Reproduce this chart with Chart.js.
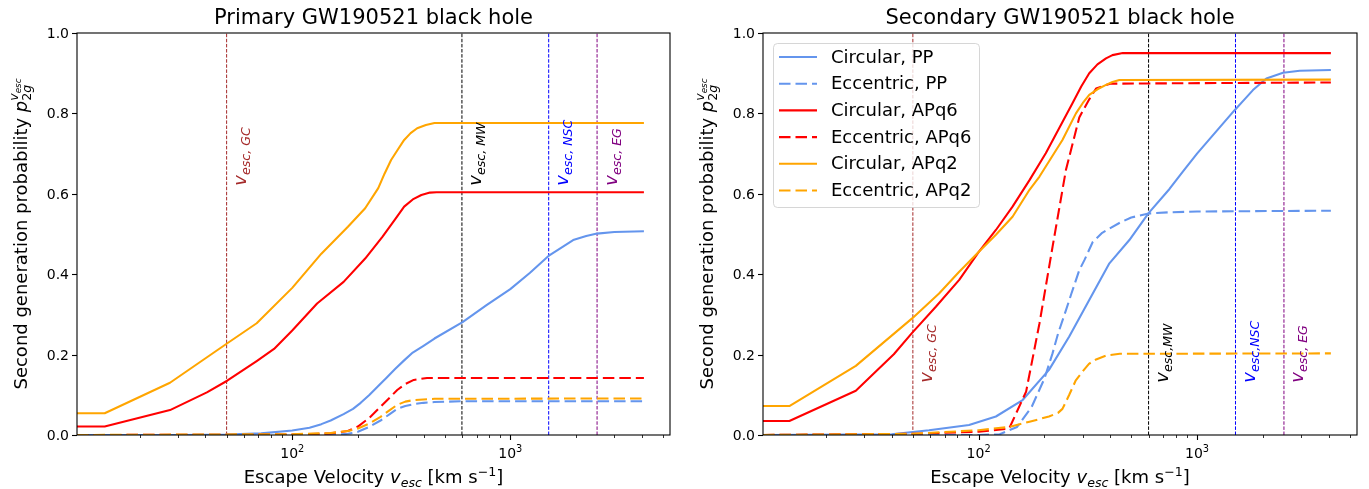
<!DOCTYPE html>
<html><head><meta charset="utf-8">
<script src="https://cdn.jsdelivr.net/npm/chart.js@4.4.1/dist/chart.umd.min.js"></script>
<style>
html,body{margin:0;padding:0;background:#fff;}
#wrap{position:relative;width:1369px;height:489px;overflow:hidden;background:#fff;}
canvas{position:absolute;top:0;}
</style></head><body>
<div id="wrap">
<canvas id="c1" width="685" height="489" style="left:0px;width:685px;height:489px"></canvas>
<canvas id="c2" width="684" height="489" style="left:685px;width:684px;height:489px"></canvas>
</div>
<script>
// ---------------- DATA ----------------
const seriesLabels = ['Circular, PP','Eccentric, PP','Circular, APq6','Eccentric, APq6','Circular, APq2','Eccentric, APq2'];
const yTickValues = [0, 0.2, 0.4, 0.6, 0.8, 1.0];
const xMajorTickValues = [100, 1000];
const xMajorTickExponents = ['2', '3'];
const escMarkVelocities = [50, 600, 1500, 2500];
const escMarkNames = ['GC', 'MW', 'NSC', 'EG'];

// Primary GW190521 black hole
const priCircPP_v = [10.3, 30, 50, 72, 100, 120, 136, 150, 172, 190, 206, 225, 248, 270, 297, 325, 357, 400, 449, 604, 778, 1000, 1228, 1510, 1942, 2229, 2500, 3000, 4100];
const priCircPP_p = [0, 0, 0.001, 0.004, 0.011, 0.018, 0.027, 0.036, 0.052, 0.065, 0.080, 0.099, 0.122, 0.142, 0.165, 0.185, 0.205, 0.222, 0.240, 0.281, 0.323, 0.363, 0.403, 0.447, 0.485, 0.495, 0.501, 0.505, 0.507];
const priEccPP_v = [10.3, 150, 180, 200, 225, 254, 280, 303, 330, 361, 400, 449, 600, 4100];
const priEccPP_p = [0, 0, 0.003, 0.008, 0.020, 0.036, 0.052, 0.065, 0.072, 0.077, 0.080, 0.082, 0.084, 0.084];
const priCircQ6_v = [10.3, 13.8, 27.5, 40.6, 50.3, 68.7, 82.5, 100, 130, 172, 216, 259, 295, 326, 357, 391, 428, 459, 4100];
const priCircQ6_p = [0.021, 0.021, 0.062, 0.106, 0.135, 0.184, 0.214, 0.260, 0.327, 0.381, 0.439, 0.493, 0.535, 0.568, 0.586, 0.597, 0.603, 0.604, 0.604];
const priEccQ6_v = [10.3, 100, 150, 180, 200, 225, 254, 280, 303, 330, 361, 415, 4100];
const priEccQ6_p = [0, 0.001, 0.004, 0.010, 0.021, 0.042, 0.070, 0.093, 0.112, 0.127, 0.137, 0.142, 0.142];
const priCircQ2_v = [10.3, 13.8, 27.5, 50, 68.7, 100, 136, 180, 216, 248, 265, 284, 304, 326, 349, 374, 410, 449, 4100];
const priCircQ2_p = [0.054, 0.054, 0.130, 0.227, 0.278, 0.366, 0.451, 0.518, 0.564, 0.614, 0.650, 0.684, 0.709, 0.734, 0.751, 0.763, 0.771, 0.776, 0.776];
const priEccQ2_v = [10.3, 100, 150, 180, 200, 225, 254, 280, 303, 330, 361, 449, 4100];
const priEccQ2_p = [0, 0.002, 0.005, 0.010, 0.016, 0.028, 0.045, 0.062, 0.075, 0.083, 0.087, 0.090, 0.091];

// Secondary GW190521 black hole
const secCircPP_v = [10.3, 40, 59.3, 90.4, 120, 159, 210, 260, 321, 397, 490, 600, 748, 861, 1000, 1141, 1486, 1650, 1803, 2077, 2476, 2953, 4100];
const secCircPP_p = [0, 0.002, 0.012, 0.025, 0.046, 0.087, 0.162, 0.245, 0.336, 0.427, 0.485, 0.552, 0.612, 0.655, 0.700, 0.736, 0.808, 0.835, 0.858, 0.887, 0.901, 0.906, 0.908];
const secEccPP_v = [10.3, 100, 125, 150, 175, 200, 218, 231, 251, 266, 289, 305, 333, 368, 443, 500, 600, 750, 1000, 4100];
const secEccPP_p = [0, 0, 0.002, 0.02, 0.07, 0.14, 0.203, 0.252, 0.31, 0.352, 0.41, 0.435, 0.48, 0.503, 0.528, 0.541, 0.551, 0.554, 0.556, 0.558];
const secCircQ6_v = [10.3, 13.6, 27.4, 40.9, 49.6, 63.7, 81.5, 100, 120, 143, 171, 203, 269, 295, 321, 350, 383, 410, 457, 4100];
const secCircQ6_p = [0.035, 0.035, 0.110, 0.201, 0.254, 0.319, 0.386, 0.455, 0.510, 0.568, 0.634, 0.701, 0.825, 0.867, 0.900, 0.922, 0.937, 0.945, 0.950, 0.950];
const secEccQ6_v = [10.3, 50, 100, 138, 165, 190, 218, 251, 289, 321, 345, 400, 4100];
const secEccQ6_p = [0, 0.003, 0.008, 0.016, 0.108, 0.278, 0.468, 0.659, 0.790, 0.835, 0.862, 0.874, 0.877];
const secCircQ2_v = [10.3, 13.6, 27.4, 49.6, 65.9, 81.5, 100, 120, 143, 171, 190, 242, 279, 300, 321, 350, 383, 410, 441, 4100];
const secCircQ2_p = [0.072, 0.072, 0.172, 0.290, 0.352, 0.406, 0.455, 0.498, 0.543, 0.610, 0.643, 0.734, 0.800, 0.826, 0.846, 0.860, 0.871, 0.878, 0.883, 0.884];
const secEccQ2_v = [10.3, 50, 100, 138, 171, 210, 231, 242, 260, 278, 299, 320, 345, 385, 443, 4100];
const secEccQ2_p = [0, 0.003, 0.012, 0.020, 0.033, 0.046, 0.055, 0.065, 0.100, 0.135, 0.158, 0.177, 0.188, 0.198, 0.202, 0.203];

// ---------------- STYLE ----------------
const FONT = '"DejaVu Sans", "Liberation Sans", sans-serif';
const seriesColors = ['#6495ED', '#6495ED', '#FF0000', '#FF0000', '#FFA500', '#FFA500'];
const seriesDashed = [false, true, false, true, false, true];
const markColors = ['#A52A2A', '#000000', '#0000FF', '#800080'];
const LW = 2.08;
const DASH = [11.5, 5];

function pairs(vs, ps) { return vs.map((v, i) => ({ x: v, y: ps[i] })); }

function drawRuns(ctx, runs, x0, y0, draw) {
  let x = x0, maxX = x0; const marks = {};
  for (const r of runs) {
    if (r.mark) marks[r.mark] = x;
    if (r.from) x = marks[r.from];
    ctx.font = (r.it ? 'italic ' : '') + r.px + 'px ' + FONT;
    const w = ctx.measureText(r.t).width;
    if (draw) ctx.fillText(r.t, x, y0 + (r.dy || 0));
    x += w; maxX = Math.max(maxX, x);
  }
  return maxX - x0;
}

const decor = {
  id: 'decor',
  afterDraw(chart, args, o) {
    const ctx = chart.ctx, a = chart.chartArea, xs = chart.scales.x, ys = chart.scales.y;
    ctx.save();
    ctx.fillStyle = '#000'; ctx.strokeStyle = '#000';
    // vertical mark labels
    ctx.textBaseline = 'alphabetic'; ctx.textAlign = 'left';
    escMarkVelocities.forEach((v, i) => {
      const px = xs.getPixelForValue(v * 1.1);
      const py = ys.getPixelForValue(o.markLabelY);
      ctx.save();
      ctx.fillStyle = markColors[i];
      ctx.translate(px + 10.5, py);
      ctx.rotate(-Math.PI / 2);
      drawRuns(ctx, [{ t: 'v', px: 18, it: 1 }, { t: o.markSub[i], px: 12.6, it: 1, dy: 4 }], 0, 0, true);
      ctx.restore();
    });
    // spines
    ctx.lineWidth = 1.1;
    ctx.strokeRect(a.left, a.top, a.right - a.left, a.bottom - a.top);
    // y ticks
    ctx.textAlign = 'right'; ctx.textBaseline = 'middle';
    ctx.font = '14px ' + FONT;
    yTickValues.forEach(v => {
      const py = Math.round(ys.getPixelForValue(v)) + 0.5;
      ctx.beginPath(); ctx.moveTo(a.left - 5, py); ctx.lineTo(a.left, py); ctx.stroke();
      ctx.fillText(v.toFixed(1), a.left - 8, py + 1);
    });
    // x ticks
    for (const d of [10, 100, 1000]) {
      for (let k = 1; k <= 9; k++) {
        const v = k * d;
        if (v < xs.min || v > xs.max) continue;
        const px = Math.round(xs.getPixelForValue(v)) + 0.5;
        ctx.lineWidth = k === 1 ? 1.1 : 0.8;
        ctx.beginPath(); ctx.moveTo(px, a.bottom); ctx.lineTo(px, a.bottom + (k === 1 ? 5 : 3)); ctx.stroke();
      }
    }
    ctx.textAlign = 'left'; ctx.textBaseline = 'alphabetic';
    xMajorTickValues.forEach((v, i) => {
      const runs = [{ t: '10', px: 14 }, { t: xMajorTickExponents[i], px: 9.8, dy: -6 }];
      const w = drawRuns(ctx, runs, 0, 0, false);
      drawRuns(ctx, runs, xs.getPixelForValue(v) - w / 2, a.bottom + 23, true);
    });
    // x label
    const xl = [{ t: 'Escape Velocity ', px: 18 }, { t: 'v', px: 18, it: 1 }, { t: 'esc', px: 12.6, it: 1, dy: 4 },
                { t: ' [km s', px: 18 }, { t: '\u22121', px: 12.6, dy: -7 }, { t: ']', px: 18 }];
    const xw = drawRuns(ctx, xl, 0, 0, false);
    drawRuns(ctx, xl, (a.left + a.right) / 2 - xw / 2, a.bottom + 48, true);
    // y label
    const yl = [{ t: 'Second generation probability ', px: 18 }, { t: 'p', px: 18, it: 1 },
                { mark: 's', t: '2', px: 12.6, dy: 4 }, { t: 'g', px: 12.6, it: 1, dy: 4 },
                { from: 's', t: 'v', px: 12.6, it: 1, dy: -9 }, { t: 'esc', px: 8.8, it: 1, dy: -6.5 }];
    const yw = drawRuns(ctx, yl, 0, 0, false);
    ctx.save();
    ctx.translate(a.left - 50, (a.top + a.bottom) / 2 + yw / 2);
    ctx.rotate(-Math.PI / 2);
    drawRuns(ctx, yl, 0, 0, true);
    ctx.restore();
    // title
    ctx.font = '21px ' + FONT; ctx.textAlign = 'center';
    ctx.fillText(o.title, (a.left + a.right) / 2, a.top - 9);
    // legend
    if (o.legend) {
      const L = a.left + 10, T = 43, W = 206, H = 164;
      ctx.save();
      ctx.beginPath();
      if (ctx.roundRect) ctx.roundRect(L + 0.5, T + 0.5, W, H, 4); else ctx.rect(L + 0.5, T + 0.5, W, H);
      ctx.fillStyle = 'rgba(255,255,255,0.8)'; ctx.fill();
      ctx.strokeStyle = 'rgba(204,204,204,0.8)'; ctx.lineWidth = 1; ctx.stroke();
      ctx.restore();
      ctx.textAlign = 'left'; ctx.textBaseline = 'middle'; ctx.font = '18px ' + FONT;
      seriesLabels.forEach((lab, i) => {
        const y = T + 14 + 26.7 * i;
        ctx.save();
        ctx.strokeStyle = seriesColors[i]; ctx.lineWidth = LW;
        ctx.setLineDash(seriesDashed[i] ? DASH : []);
        ctx.beginPath(); ctx.moveTo(L + 6, y); ctx.lineTo(L + 44, y); ctx.stroke();
        ctx.restore();
        ctx.fillStyle = '#000';
        ctx.fillText(lab, L + 58, y + 1);
      });
    }
    ctx.restore();
  }
};

function makePanel(id, title, series, pad, markLabelY, markSub, legend) {
  const datasets = [];
  escMarkVelocities.forEach((v, i) => {
    datasets.push({
      data: [{ x: v, y: 0 }, { x: v, y: 1 }],
      borderColor: markColors[i], borderWidth: 1.0, borderDash: [3.5, 1.6],
      pointRadius: 0, order: 100 + i, clip: 0
    });
  });
  series.forEach((s, i) => {
    datasets.push({
      label: seriesLabels[i],
      data: pairs(s[0], s[1]),
      borderColor: seriesColors[i], borderWidth: LW,
      borderDash: seriesDashed[i] ? DASH : [],
      borderJoinStyle: 'round',
      pointRadius: 0, tension: 0, order: 50 - i, clip: 0
    });
  });
  new Chart(document.getElementById(id), {
    type: 'line',
    data: { datasets },
    options: {
      responsive: false, animation: false, devicePixelRatio: 1, events: [],
      layout: { padding: pad },
      scales: {
        x: { type: 'logarithmic', min: 10.3, max: 5400, display: false },
        y: { type: 'linear', min: 0, max: 1, display: false }
      },
      plugins: {
        legend: { display: false }, tooltip: { enabled: false }, title: { display: false },
        decor: { title, markLabelY, markSub, legend }
      }
    },
    plugins: [decor]
  });
}

makePanel('c1', 'Primary GW190521 black hole', [
  [priCircPP_v, priCircPP_p], [priEccPP_v, priEccPP_p],
  [priCircQ6_v, priCircQ6_p], [priEccQ6_v, priEccQ6_p],
  [priCircQ2_v, priCircQ2_p], [priEccQ2_v, priEccQ2_p]
], { left: 77, right: 15, top: 33, bottom: 54 }, 0.62, ['esc, GC', 'esc, MW', 'esc, NSC', 'esc, EG'], false);

makePanel('c2', 'Secondary GW190521 black hole', [
  [secCircPP_v, secCircPP_p], [secEccPP_v, secEccPP_p],
  [secCircQ6_v, secCircQ6_p], [secEccQ6_v, secEccQ6_p],
  [secCircQ2_v, secCircQ2_p], [secEccQ2_v, secEccQ2_p]
], { left: 78, right: 12, top: 33, bottom: 54 }, 0.13, ['esc, GC', 'esc,MW', 'esc,NSC', 'esc, EG'], true);
</script>
</body></html>
